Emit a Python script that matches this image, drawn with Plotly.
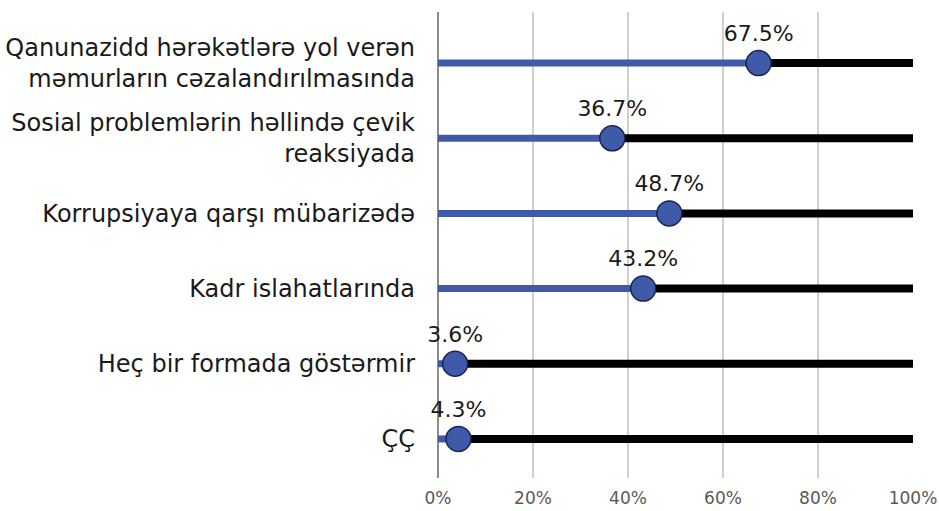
import plotly.graph_objects as go

categories = [
    "Qanunazidd hərəkətlərə yol verən<br>məmurların cəzalandırılmasında",
    "Sosial problemlərin həllində çevik<br>reaksiyada",
    "Korrupsiyaya qarşı mübarizədə",
    "Kadr islahatlarında",
    "Heç bir formada göstərmir",
    "ÇÇ",
]
values = [67.5, 36.7, 48.7, 43.2, 3.6, 4.3]
x_ticks = [0, 20, 40, 60, 80, 100]
x_ticklabels = ["0%", "20%", "40%", "60%", "80%", "100%"]
total = 100

ypos = list(range(len(categories)))

fig = go.Figure()

# black remainder lines
bx, by = [], []
for y, v in zip(ypos, values):
    bx += [v, total, None]
    by += [y, y, None]
fig.add_trace(go.Scatter(x=bx, y=by, mode="lines",
                         line=dict(color="#000000", width=8), hoverinfo="skip",
                         showlegend=False, cliponaxis=False))
# blue value lines
ux, uy = [], []
for y, v in zip(ypos, values):
    ux += [0, v, None]
    uy += [y, y, None]
fig.add_trace(go.Scatter(x=ux, y=uy, mode="lines",
                         line=dict(color="#3F5AA8", width=7), hoverinfo="skip",
                         showlegend=False, cliponaxis=False))
# markers + labels
fig.add_trace(go.Scatter(
    x=values, y=ypos, mode="markers+text",
    marker=dict(size=25, color="#3F5AA8", line=dict(color="#1B2550", width=1.5)),
    text=[f"{v:.1f}%" for v in values],
    textposition="top center",
    textfont=dict(family="DejaVu Sans", size=22, color="#1a1a1a"),
    cliponaxis=False, showlegend=False))

fig.update_layout(
    width=939, height=511,
    margin=dict(l=438, r=26, t=12, b=33),
    paper_bgcolor="white", plot_bgcolor="white",
    font=dict(family="DejaVu Sans"),
)
fig.update_xaxes(
    range=[0, 100], tickvals=x_ticks, ticktext=x_ticklabels,
    showgrid=True, gridcolor="#D0D0D0", gridwidth=2,
    showline=False, automargin=False,
    tickfont=dict(size=17, color="#595959", family="DejaVu Sans"),
    ticks="outside", ticklen=5, tickcolor="rgba(0,0,0,0)",
    zeroline=True, zerolinecolor="#8c8c8c", zerolinewidth=2,
)
fig.update_yaxes(
    range=[5.52, -0.68], tickvals=ypos, ticktext=categories,
    showgrid=False, zeroline=False, automargin=False,
    showline=False,
    tickfont=dict(size=24, color="#1a1a1a", family="DejaVu Sans"),
    ticklabelstandoff=22,
)

fig.write_html("out.html", config={"displayModeBar": False},
               post_script="document.body.style.margin='0px';document.body.style.overflow='hidden';")
